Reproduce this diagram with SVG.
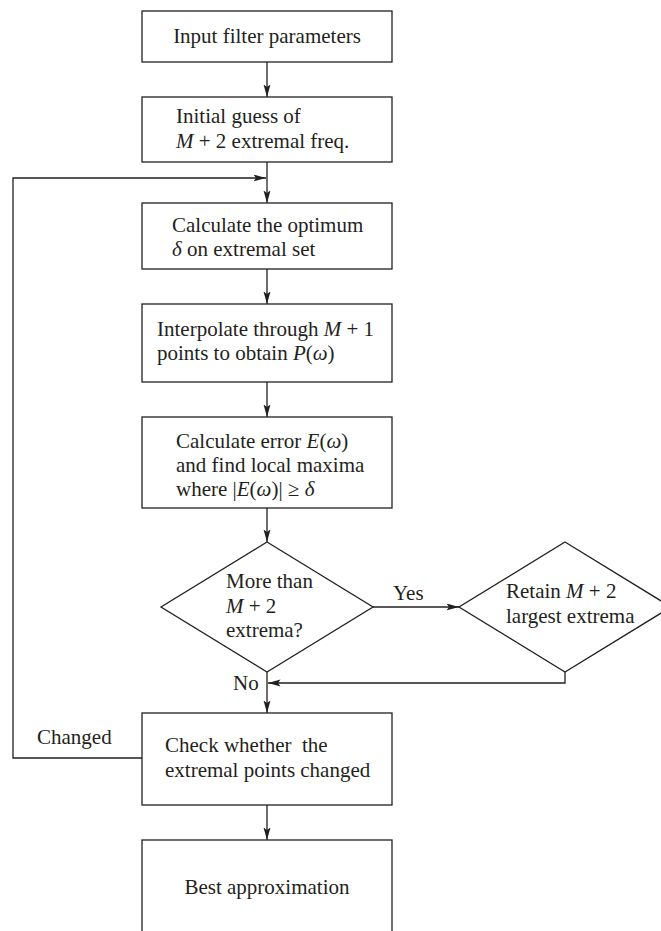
<svg xmlns="http://www.w3.org/2000/svg" width="661" height="931" viewBox="0 0 661 931">
<style>
  .box { fill: #ffffff; stroke: #231f20; stroke-width: 1.3; }
  .ln { fill: none; stroke: #231f20; stroke-width: 1.3; }
  text { font-family: "Liberation Serif", "Times New Roman", serif; font-size: 21px; fill: #231f20; }
  .i { font-style: italic; }
</style>
<defs>
  <marker id="ah" markerUnits="userSpaceOnUse" markerWidth="13" markerHeight="8" refX="12.5" refY="3.5" orient="auto">
    <path d="M0,0 L12.5,3.5 L0,7 L2.5,3.5 Z" fill="#231f20"/>
  </marker>
</defs>
<rect width="661" height="931" fill="#ffffff"/>
<g id="connectors">
  <line class="ln" x1="267" y1="62" x2="267" y2="97" marker-end="url(#ah)"/>
  <line class="ln" x1="267" y1="162" x2="267" y2="203" marker-end="url(#ah)"/>
  <line class="ln" x1="267" y1="269" x2="267" y2="304" marker-end="url(#ah)"/>
  <line class="ln" x1="267" y1="382" x2="267" y2="417" marker-end="url(#ah)"/>
  <line class="ln" x1="267" y1="508" x2="267" y2="542" marker-end="url(#ah)"/>
  <line class="ln" x1="373" y1="607" x2="459" y2="607" marker-end="url(#ah)"/>
  <polyline class="ln" points="565,672 565,683 268,683" marker-end="url(#ah)"/>
  <line class="ln" x1="267" y1="672" x2="267" y2="713" marker-end="url(#ah)"/>
  <polyline class="ln" points="142,758 13,758 13,178 266,178" marker-end="url(#ah)"/>
  <line class="ln" x1="267" y1="805" x2="267" y2="840" marker-end="url(#ah)"/>
  <text x="393" y="600">Yes</text>
  <text x="233" y="690">No</text>
  <text x="37" y="744">Changed</text>
</g>
<g id="n1">
  <rect class="box" x="142" y="11" width="250" height="51"/>
  <text x="267" y="43" text-anchor="middle">Input filter parameters</text>
</g>
<g id="n2">
  <rect class="box" x="142" y="97" width="250" height="65"/>
  <text x="176" y="123">Initial guess of</text>
  <text x="176" y="148"><tspan class="i">M</tspan> + 2 extremal freq.</text>
</g>
<g id="n3">
  <rect class="box" x="142" y="203" width="250" height="66"/>
  <text x="172" y="232">Calculate the optimum</text>
  <text x="172" y="256"><tspan class="i">δ</tspan> on extremal set</text>
</g>
<g id="n4">
  <rect class="box" x="142" y="304" width="250" height="78"/>
  <text x="157" y="336">Interpolate through <tspan class="i">M</tspan> + 1</text>
  <text x="157" y="360">points to obtain <tspan class="i">P</tspan>(<tspan class="i">ω</tspan>)</text>
</g>
<g id="n5">
  <rect class="box" x="142" y="417" width="250" height="91"/>
  <text x="176" y="448">Calculate error <tspan class="i">E</tspan>(<tspan class="i">ω</tspan>)</text>
  <text x="176" y="472">and find local maxima</text>
  <text x="176" y="496">where |<tspan class="i">E</tspan>(<tspan class="i">ω</tspan>)| ≥ <tspan class="i">δ</tspan></text>
</g>
<g id="n6">
  <polygon class="box" points="267,542 373,607 267,672 161,607"/>
  <text x="226" y="588">More than</text>
  <text x="226" y="613"><tspan class="i">M</tspan> + 2</text>
  <text x="226" y="637">extrema?</text>
</g>
<g id="n7">
  <polygon class="box" points="565,542 671,607 565,672 459,607"/>
  <text x="506" y="598">Retain <tspan class="i">M</tspan> + 2</text>
  <text x="506" y="623">largest extrema</text>
</g>
<g id="n8">
  <rect class="box" x="142" y="713" width="250" height="92"/>
  <text x="165" y="752" xml:space="preserve">Check whether  the</text>
  <text x="165" y="777">extremal points changed</text>
</g>
<g id="n9">
  <rect class="box" x="142" y="840" width="250" height="110"/>
  <text x="267" y="894" text-anchor="middle">Best approximation</text>
</g>
</svg>
